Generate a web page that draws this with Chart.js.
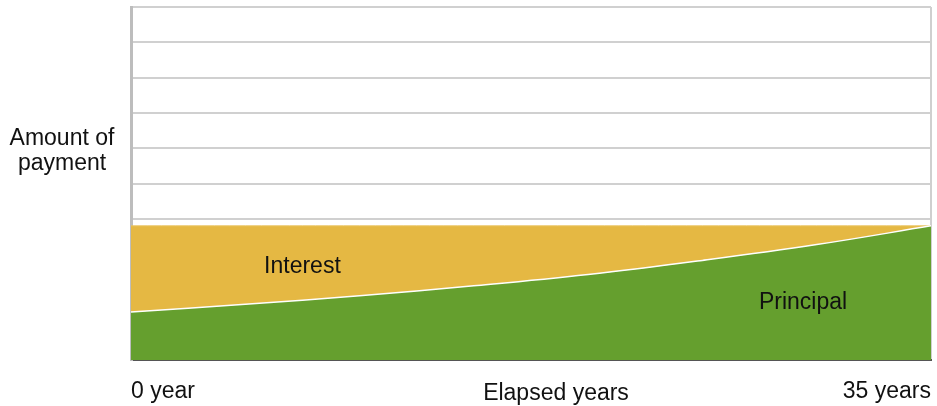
<!DOCTYPE html>
<html>
<head>
<meta charset="utf-8">
<script src="https://cdn.jsdelivr.net/npm/chart.js@4.4.1/dist/chart.umd.min.js"></script>
<style>
  html, body { margin: 0; padding: 0; background: #fff; }
  #wrap { width: 937px; height: 406px; }
</style>
</head>
<body>
<div id="wrap"><canvas id="loan" width="937" height="406"></canvas></div>
<script>
// values (years elapsed vs. share of the fixed payment)
const years = [0, 5, 10, 15, 20, 25, 30, 35];
const principal = [1.36, 1.58, 1.82, 2.10, 2.42, 2.82, 3.27, 3.80];
const interest = [2.44, 2.22, 1.98, 1.70, 1.38, 0.98, 0.53, 0.00];
const xTickLabels = { 0: '0 year', 35: '35 years' };

const FONT = '"Liberation Sans", Arial, sans-serif';

// extra texts placed inside / beside the chart area
const labelsPlugin = {
  id: 'labels',
  afterDraw(chart) {
    const ctx = chart.ctx;
    const xs = chart.scales.x, ys = chart.scales.y;
    ctx.save();
    ctx.fillStyle = '#111';
    ctx.font = '23px ' + FONT;
    ctx.textAlign = 'center';
    ctx.textBaseline = 'alphabetic';
    ctx.fillText('Amount of', 62, 145);
    ctx.fillText('payment', 62, 170);
    ctx.fillText('Elapsed years', 556, 400);
    ctx.fillText('Interest', xs.getPixelForValue(7.5), ys.getPixelForValue(2.47));
    ctx.fillText('Principal', xs.getPixelForValue(29.4), ys.getPixelForValue(1.45));
    ctx.restore();
  }
};

new Chart(document.getElementById('loan').getContext('2d'), {
  type: 'line',
  data: {
    datasets: [{
      label: 'Principal',
      data: years.map((x, i) => ({ x: x, y: principal[i] })),
      backgroundColor: '#659F2E',
      borderColor: '#ffffff',
      borderWidth: 1.5,
      fill: 'origin',
      tension: 0.4,
      pointRadius: 0
    }, {
      label: 'Interest',
      data: years.map((x, i) => ({ x: x, y: interest[i] })),
      backgroundColor: '#E5B843',
      borderColor: '#E9C460',
      borderWidth: 1,
      fill: '-1',
      tension: 0.4,
      pointRadius: 0
    }]
  },
  options: {
    responsive: false,
    animation: false,
    layout: { padding: { left: 131, right: 6, top: 7, bottom: 0 } },
    plugins: {
      legend: { display: false },
      tooltip: { enabled: false }
    },
    scales: {
      x: {
        type: 'linear',
        min: 0,
        max: 35,
        afterBuildTicks(axis) {
          axis.ticks = [{ value: 0 }, { value: 35 }];
        },
        afterFit(axis) {
          axis.height = 46;
          axis.paddingLeft = 0;
          axis.paddingRight = 0;
        },
        grid: {
          drawTicks: false,
          color: (c) => (c.tick && c.tick.value === 35 ? '#cfcfcf' : 'rgba(0,0,0,0)'),
          lineWidth: 2
        },
        border: { color: '#555', width: 2 },
        ticks: {
          align: 'inner',
          padding: 18,
          maxRotation: 0,
          color: '#111',
          font: { family: FONT, size: 23 },
          callback: (v) => xTickLabels[v] || ''
        }
      },
      y: {
        stacked: true,
        min: 0,
        max: 10,
        grid: { color: '#d0d0d0', lineWidth: 2, drawTicks: false },
        border: { color: '#bdbdbd', width: 3 },
        ticks: { display: false, stepSize: 1 }
      }
    }
  },
  plugins: [labelsPlugin]
});
</script>
</body>
</html>
